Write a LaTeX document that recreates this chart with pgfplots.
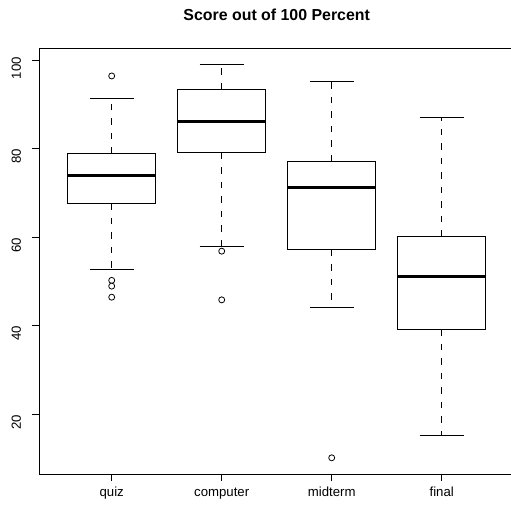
\documentclass[border=0pt]{standalone}
\usepackage{pgfplots}
\pgfplotsset{compat=1.18}
\usepackage{fontspec}
\setmainfont{Liberation Sans}
\begin{document}
\begin{tikzpicture}
\begin{axis}[
  scale only axis, width=475.2pt, height=425.3pt,
  xmin=0.34, xmax=4.66, ymin=6.44, ymax=102.56,
  xtick={1,2,3,4}, xticklabels={quiz,computer,midterm,final},
  ytick={20,40,60,80,100},
  xtick pos=lower, ytick pos=left,
  tick align=outside, major tick length=7.2pt,
  every tick/.style={black, line width=0.9pt},
  axis line style={black, line width=0.9pt},
  /pgf/number format/assume math mode=true,
  tick label style={font=\fontsize{13.2}{15}\selectfont},
  yticklabel style={rotate=90, anchor=base, xshift=-8pt, yshift=11pt},
  xticklabel style={anchor=base, yshift=-14.8pt},
  title={Score out of 100 Percent},
  title style={font=\fontsize{15.9}{18}\selectfont\bfseries, anchor=base, at={(0.5,1)}, yshift=22pt},
  clip=false,
  no markers,
  box/.style={black, line width=0.9pt, line join=miter},
  med/.style={black, line width=3pt},
  wh/.style={black, line width=0.9pt, dash pattern=on 6.5pt off 8pt},
  cap/.style={black, line width=0.9pt},
  out/.style={draw=black, only marks, mark=*, mark size=3pt, mark options={draw=black, fill=white, line width=0.8pt}},
]
% quiz
\addplot[wh] coordinates {(1,78.8) (1,91.3)};
\addplot[wh] coordinates {(1,67.6) (1,52.6)};
\addplot[cap] coordinates {(0.8,91.3) (1.2,91.3)};
\addplot[cap] coordinates {(0.8,52.6) (1.2,52.6)};
\addplot[box, fill=white] coordinates {(0.6,67.6) (1.4,67.6) (1.4,78.8) (0.6,78.8) (0.6,67.6)} -- cycle;
\addplot[med] coordinates {(0.6,73.9) (1.4,73.9)};
\addplot[out] coordinates {(1,96.4) (1,50.2) (1,48.9) (1,46.4)};
% computer
\addplot[wh] coordinates {(2,93.4) (2,98.9)};
\addplot[wh] coordinates {(2,79.0) (2,57.9)};
\addplot[cap] coordinates {(1.8,98.9) (2.2,98.9)};
\addplot[cap] coordinates {(1.8,57.9) (2.2,57.9)};
\addplot[box, fill=white] coordinates {(1.6,79.0) (2.4,79.0) (2.4,93.4) (1.6,93.4) (1.6,79.0)} -- cycle;
\addplot[med] coordinates {(1.6,86.2) (2.4,86.2)};
\addplot[out] coordinates {(2,56.8) (2,45.8)};
% midterm
\addplot[wh] coordinates {(3,77.1) (3,95.1)};
\addplot[wh] coordinates {(3,57.1) (3,44.1)};
\addplot[cap] coordinates {(2.8,95.1) (3.2,95.1)};
\addplot[cap] coordinates {(2.8,44.1) (3.2,44.1)};
\addplot[box, fill=white] coordinates {(2.6,57.1) (3.4,57.1) (3.4,77.1) (2.6,77.1) (2.6,57.1)} -- cycle;
\addplot[med] coordinates {(2.6,71.1) (3.4,71.1)};
\addplot[out] coordinates {(3,10.1)};
% final
\addplot[wh] coordinates {(4,60.1) (4,87.1)};
\addplot[wh] coordinates {(4,39.1) (4,15.1)};
\addplot[cap] coordinates {(3.8,87.1) (4.2,87.1)};
\addplot[cap] coordinates {(3.8,15.1) (4.2,15.1)};
\addplot[box, fill=white] coordinates {(3.6,39.1) (4.4,39.1) (4.4,60.1) (3.6,60.1) (3.6,39.1)} -- cycle;
\addplot[med] coordinates {(3.6,51.0) (4.4,51.0)};
\end{axis}
\pgfresetboundingbox
\path[use as bounding box] ([xshift=-39.1pt,yshift=-32pt]current axis.south west) rectangle ([xshift=471.9pt,yshift=474pt]current axis.south west);
\end{tikzpicture}
\end{document}
